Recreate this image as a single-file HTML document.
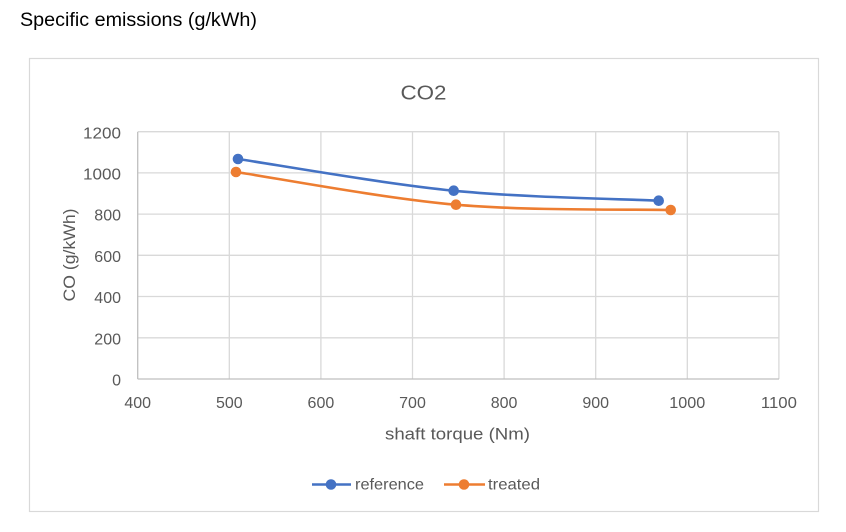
<!DOCTYPE html>
<html><head><meta charset="utf-8"><style>
html,body{margin:0;padding:0;background:#fff;}
svg{display:block;}
text{font-family:"Liberation Sans",Arial,sans-serif;}
</style></head><body>
<svg width="846" height="532" viewBox="0 0 846 532" xmlns="http://www.w3.org/2000/svg">
<rect width="846" height="532" fill="#fff"/>
<text x="20" y="26" font-size="19" fill="#000" textLength="237" lengthAdjust="spacingAndGlyphs">Specific emissions (g/kWh)</text>
<rect x="29.5" y="58.5" width="789" height="453" fill="#fff" stroke="#D9D9D9" stroke-width="1.2"/>
<text x="423.5" y="99.3" font-size="20" fill="#595959" text-anchor="middle" textLength="46" lengthAdjust="spacingAndGlyphs">CO2</text>
<g stroke="#D9D9D9" stroke-width="1.3" fill="none">
<line x1="138" y1="131.7" x2="779" y2="131.7"/>
<line x1="138" y1="172.9" x2="779" y2="172.9"/>
<line x1="138" y1="214.1" x2="779" y2="214.1"/>
<line x1="138" y1="255.3" x2="779" y2="255.3"/>
<line x1="138" y1="296.5" x2="779" y2="296.5"/>
<line x1="138" y1="337.8" x2="779" y2="337.8"/>
<line x1="229.3" y1="131.7" x2="229.3" y2="379"/>
<line x1="320.9" y1="131.7" x2="320.9" y2="379"/>
<line x1="412.5" y1="131.7" x2="412.5" y2="379"/>
<line x1="504.1" y1="131.7" x2="504.1" y2="379"/>
<line x1="595.7" y1="131.7" x2="595.7" y2="379"/>
<line x1="687.3" y1="131.7" x2="687.3" y2="379"/>
<line x1="778.9" y1="131.7" x2="778.9" y2="379"/>
</g>
<g stroke="#BFBFBF" stroke-width="1.3">
<line x1="137.7" y1="131.7" x2="137.7" y2="379"/>
<line x1="137.7" y1="379" x2="779" y2="379"/>
</g>
<g font-size="16" fill="#595959" text-anchor="end">
<text x="121" y="138.3" textLength="38" lengthAdjust="spacingAndGlyphs">1200</text>
<text x="121" y="179.5" textLength="38" lengthAdjust="spacingAndGlyphs">1000</text>
<text x="121" y="220.7">800</text>
<text x="121" y="261.9">600</text>
<text x="121" y="303.1">400</text>
<text x="121" y="344.4">200</text>
<text x="121" y="385.6">0</text>
</g>
<g font-size="16" fill="#595959" text-anchor="middle">
<text x="137.7" y="408">400</text>
<text x="229.3" y="408">500</text>
<text x="320.9" y="408">600</text>
<text x="412.5" y="408">700</text>
<text x="504.1" y="408">800</text>
<text x="595.7" y="408">900</text>
<text x="687.3" y="408" textLength="36" lengthAdjust="spacingAndGlyphs">1000</text>
<text x="778.9" y="408" textLength="36" lengthAdjust="spacingAndGlyphs">1100</text>
</g>
<text x="457.5" y="439.3" font-size="17" fill="#595959" text-anchor="middle" textLength="145" lengthAdjust="spacingAndGlyphs">shaft torque (Nm)</text>
<text transform="translate(75,255) rotate(-90)" x="0" y="0" font-size="17" fill="#595959" text-anchor="middle" textLength="93" lengthAdjust="spacingAndGlyphs">CO (g/kWh)</text>
<path d="M238,159 C273.9,164.3 383.6,183.75 453.7,190.7 C523.8,197.65 624.5,199 658.7,200.7" fill="none" stroke="#4472C4" stroke-width="2.6" stroke-linecap="round"/>
<path d="M236,172 C272.7,177.45 383.55,198.37 456,204.7 C528.45,211.03 634.9,209.1 670.7,210" fill="none" stroke="#ED7D31" stroke-width="2.6" stroke-linecap="round"/>
<g fill="#4472C4">
<circle cx="238" cy="159" r="5.3"/>
<circle cx="453.7" cy="190.7" r="5.3"/>
<circle cx="658.7" cy="200.7" r="5.3"/>
</g>
<g fill="#ED7D31">
<circle cx="236" cy="172" r="5.3"/>
<circle cx="456" cy="204.7" r="5.3"/>
<circle cx="670.7" cy="210" r="5.3"/>
</g>
<line x1="312" y1="484.5" x2="351" y2="484.5" stroke="#4472C4" stroke-width="2.6"/>
<circle cx="331" cy="484.5" r="5.3" fill="#4472C4"/>
<text x="355" y="489.5" font-size="16" fill="#595959" textLength="69" lengthAdjust="spacingAndGlyphs">reference</text>
<line x1="444" y1="484.5" x2="485" y2="484.5" stroke="#ED7D31" stroke-width="2.6"/>
<circle cx="464" cy="484.5" r="5.3" fill="#ED7D31"/>
<text x="488" y="489.5" font-size="16" fill="#595959" textLength="52" lengthAdjust="spacingAndGlyphs">treated</text>
</svg>
</body></html>
